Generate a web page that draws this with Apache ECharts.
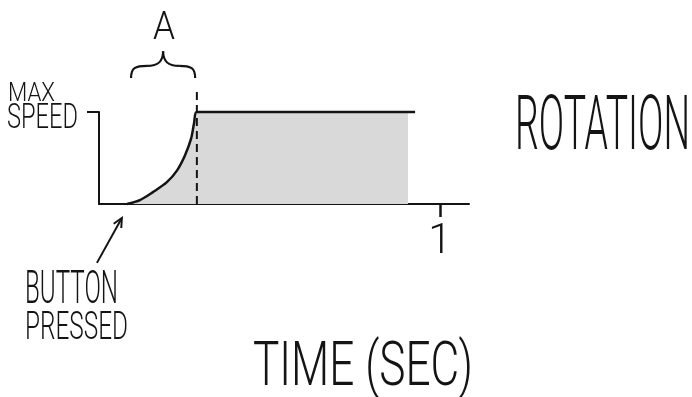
<!DOCTYPE html>
<html>
<head>
<meta charset="utf-8">
<script src="https://cdn.jsdelivr.net/npm/echarts@6/dist/echarts.min.js"></script>
<style>
  html, body { margin: 0; padding: 0; background: #fff; }
  #chart { width: 692px; height: 397px; }
</style>
</head>
<body>
<div id="chart"></div>
<script>
  // ramp up after the button press (time in sec, speed as share of max)
  const rampTime = [0.082, 0.12, 0.158, 0.199, 0.229, 0.252, 0.27, 0.279, 0.287]
  const rampSpeed = [0, 0.043, 0.129, 0.237, 0.366, 0.527, 0.71, 0.882, 1]
  const holdEnd = 0.927 // where the max speed line stops
  const fillEnd = 0.906 // where the grey area stops
  const peakTime = 0.287 // end of phase A
  const xTicks = [1]
  const yTicks = [1]

  // annotation anchors, in axis units
  const dashTop = 1.26
  const braceX = [0.094, 0.282]
  const braceY = [1.37, 1.66]
  const arrowTail = [-0.006, -0.64]
  const arrowTip = [0.067, -0.152]

  const INK = '#141414'
  const FONT = 'Roboto'

  const chart = echarts.init(document.getElementById('chart'))

  const ramp = rampTime.map((t, i) => [t, rampSpeed[i]])

  chart.setOption({
    animation: false,
    grid: { left: 99, top: 112, width: 370, height: 92 },
    xAxis: {
      type: 'value',
      min: 0,
      max: 1.085,
      axisLine: { show: true, lineStyle: { color: INK, width: 2 } },
      axisTick: { show: true, customValues: xTicks, length: 13, lineStyle: { color: INK, width: 2.5 } },
      axisLabel: {
        show: true, customValues: xTicks, margin: 17,
        fontFamily: FONT, fontWeight: 300, fontSize: 42, color: INK
      },
      splitLine: { show: false }
    },
    yAxis: {
      type: 'value',
      min: 0,
      max: 1,
      axisLine: { show: true, lineStyle: { color: INK, width: 2 } },
      axisTick: { show: true, customValues: yTicks, length: 12, lineStyle: { color: INK, width: 2 } },
      axisLabel: { show: false },
      splitLine: { show: false }
    },
    series: [
      { // grey area under the speed
        type: 'line',
        data: ramp.concat([[fillEnd, 1]]),
        smooth: 0.3,
        symbol: 'none',
        lineStyle: { width: 0 },
        areaStyle: { color: '#d9d9d9', opacity: 1 },
        silent: true,
        z: 1
      },
      { // end of phase A, dashed, runs up past the plot
        type: 'line',
        data: [[peakTime, 0], [peakTime, dashTop]],
        symbol: 'none',
        clip: false,
        silent: true,
        lineStyle: { color: INK, width: 2, type: [8, 5] },
        z: 2
      },
      { // speed line
        type: 'line',
        data: ramp.concat([[holdEnd, 1]]),
        smooth: 0.3,
        symbol: 'none',
        clip: false,
        lineStyle: { color: INK, width: 2.5 },
        z: 3
      }
    ]
  })

  // hand lettering: squeeze the text into the box it takes in the picture
  const ctx = document.createElement('canvas').getContext('2d')
  function letters (text, left, right, top, bottom, weight) {
    const size = (bottom - top) / 0.711
    const font = weight + ' ' + size.toFixed(1) + 'px ' + FONT
    ctx.font = font
    const w = ctx.measureText(text).width
    return {
      type: 'text',
      x: left,
      y: (top + bottom) / 2,
      scaleX: (right - left) / w,
      silent: true,
      style: { text: text, font: font, fill: INK, align: 'left', verticalAlign: 'middle' }
    }
  }

  const px = p => chart.convertToPixel({ gridIndex: 0 }, p)

  // brace over phase A, four bezier pieces
  const bl = px([braceX[0], braceY[0]])
  const br = px([braceX[1], braceY[0]])
  const braceTop = px([0, braceY[1]])[1]
  const x0 = bl[0], x1 = br[0], yb = bl[1], xm = (x0 + x1) / 2
  const ys = yb - (yb - braceTop) * 0.45
  const curve = (ax, ay, c1x, c1y, c2x, c2y, bx, by) => ({
    type: 'bezierCurve',
    silent: true,
    shape: { x1: ax, y1: ay, cpx1: c1x, cpy1: c1y, cpx2: c2x, cpy2: c2y, x2: bx, y2: by },
    style: { fill: null, stroke: INK, lineWidth: 2.2 }
  })
  const ql = (x0 + xm) / 2
  const qr = (xm + x1) / 2
  const brace = [
    curve(x0, yb, x0, ys + 2, x0 + 4, ys, ql, ys),
    curve(ql, ys, xm - 8, ys, xm, ys - 2, xm, braceTop),
    curve(xm, braceTop, xm, ys - 2, xm + 8, ys, qr, ys),
    curve(qr, ys, x1 - 4, ys, x1, ys + 2, x1, yb)
  ]

  // arrow pointing at the button press
  const a0 = px(arrowTail)
  const a1 = px(arrowTip)
  const ang = Math.atan2(a0[1] - a1[1], a0[0] - a1[0])
  const wing = d => [a1[0] + 10 * Math.cos(ang + d), a1[1] + 10 * Math.sin(ang + d)]

  chart.setOption({
    graphic: brace.concat([
      { type: 'polyline', silent: true, shape: { points: [a0, a1] },
        style: { stroke: INK, lineWidth: 2 } },
      { type: 'polyline', silent: true, shape: { points: [wing(0.45), a1, wing(-0.45)] },
        style: { stroke: INK, lineWidth: 2, fill: null } },
      letters('A', 153, 175, 16, 43, 300),
      letters('MAX', 8, 55, 85, 104, 300),
      letters('SPEED', 7, 78, 107, 132, 300),
      letters('ROTATION', 515, 690, 103, 157, 300),
      letters('BUTTON', 25, 118, 275, 308, 300),
      letters('PRESSED', 25, 128, 315, 343, 300),
      letters('TIME (SEC)', 253, 473, 348, 392, 300)
    ])
  })
</script>
</body>
</html>
